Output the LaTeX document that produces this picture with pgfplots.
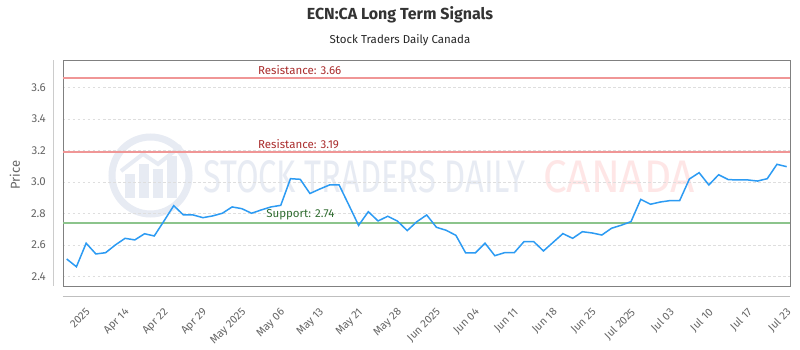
\documentclass[border=0pt]{standalone}
\usepackage{pgfplots}
\pgfplotsset{compat=1.18}
\usepackage{graphicx}
\usepackage{fontspec}
\setmainfont{Fira Sans}
\definecolor{serie}{RGB}{44,155,243}
\definecolor{resline}{RGB}{240,150,150}
\definecolor{restext}{RGB}{170,45,45}
\definecolor{supline}{RGB}{140,196,140}
\definecolor{suptext}{RGB}{50,110,50}
\definecolor{tick}{RGB}{102,102,102}
\definecolor{wmblue}{RGB}{231,235,243}
\definecolor{wmpink}{RGB}{254,230,230}
\begin{document}
\begin{tikzpicture}[x=1pt,y=1pt]
\path[use as bounding box, fill=white] (-63,-64) rectangle (737,286);
% watermark
\draw[wmblue, line width=7pt] (87.5,110.5) circle (38.5);
\fill[wmblue] (62,88) rectangle (72,112);
\fill[wmblue] (76,88) rectangle (86,122);
\fill[wmblue] (90,88) rectangle (100,117);
\fill[wmblue] (104,88) rectangle (114,130);
\draw[wmblue, line width=4pt] (58,115) -- (80,132) -- (95,122) -- (118,140);
\node[anchor=west, inner sep=0pt] at (140,109.3) {\resizebox{322pt}{32pt}{\fontsize{40}{40}\selectfont\color{wmblue}STOCK TRADERS DAILY}};
\node[anchor=west, inner sep=0pt] at (480,109.3) {\resizebox{152pt}{32pt}{\fontsize{40}{40}\selectfont\color{wmpink}CANADA}};
% titles
\node[font=\fontsize{16}{19}\selectfont\bfseries, text=black!80] at (337,271) {ECN:CA Long Term Signals};
\node[font=\fontsize{11.5}{14}\selectfont, text=black!85] at (337,246) {Stock Traders Daily Canada};
\node[font=\fontsize{13}{15}\selectfont, text=tick, rotate=90] at (-48,111) {Price};
\begin{axis}[
  at={(0,0)}, anchor=south west,
  scale only axis, width=727pt, height=226pt,
  xmin=-0.38, xmax=74.34, ymin=2.341, ymax=3.773,
  clip=false,
  axis line style={draw=black!50, line width=0.8pt},
  xtick={2,6,10,14,18,22,26,30,34,38,42,46,50,54,58,62,66,70,74},
  xticklabels={2025,Apr 14,Apr 22,Apr 29,May 2025,May 06,May 13,May 21,May 28,Jun 2025,Jun 04,Jun 11,Jun 18,Jun 25,Jul 2025,Jul 03,Jul 10,Jul 17,Jul 23},
  ytick={2.4,2.6,2.8,3.0,3.2,3.4,3.6},
  yticklabel style={/pgf/number format/.cd, fixed, fixed zerofill, precision=1, /tikz/.cd, font=\fontsize{11.5}{13}\selectfont, text=tick, inner sep=0pt, anchor=east, xshift=-17pt},
  xticklabel style={yshift=-21pt, xshift=-1pt, rotate=45, anchor=north east, inner sep=0pt, font=\fontsize{11}{13}\selectfont, text=tick},
  /pgf/number format/assume math mode=true,
  major tick length=0pt,
  ymajorgrids,
  grid style={draw=black!13, dash pattern=on 2.5pt off 2.5pt, line width=0.6pt},
]
\addplot[resline, line width=2pt] coordinates {(-0.38,3.66) (74.34,3.66)};
\addplot[resline, line width=2pt] coordinates {(-0.38,3.19) (74.34,3.19)};
\addplot[supline, line width=2pt] coordinates {(-0.38,2.74) (74.34,2.74)};
\node[anchor=south west, inner sep=0pt, yshift=3pt, font=\fontsize{11.5}{13}\selectfont, text=restext] at (axis cs:19.66,3.66) {Resistance: 3.66};
\node[anchor=south west, inner sep=0pt, yshift=3pt, font=\fontsize{11.5}{13}\selectfont, text=restext] at (axis cs:19.66,3.19) {Resistance: 3.19};
\node[anchor=south west, inner sep=0pt, yshift=3pt, font=\fontsize{11.5}{13}\selectfont, text=suptext] at (axis cs:20.5,2.74) {Support: 2.74};
\addplot[serie, line width=1.5pt] table[x=i, y=v] {
i v
0 2.512
1 2.463
2 2.612
3 2.544
4 2.552
5 2.601
6 2.643
7 2.633
8 2.672
9 2.658
10 2.753
11 2.850
12 2.791
13 2.791
14 2.774
15 2.785
16 2.802
17 2.842
18 2.831
19 2.802
20 2.823
21 2.842
22 2.852
23 3.021
24 3.017
25 2.927
26 2.955
27 2.981
28 2.981
29 2.854
30 2.725
31 2.812
32 2.753
33 2.783
34 2.752
35 2.692
36 2.749
37 2.791
38 2.713
39 2.694
40 2.662
41 2.551
42 2.551
43 2.612
44 2.533
45 2.552
46 2.552
47 2.622
48 2.622
49 2.563
50 2.618
51 2.673
52 2.643
53 2.685
54 2.677
55 2.664
56 2.707
57 2.726
58 2.749
59 2.890
60 2.859
61 2.873
62 2.882
63 2.882
64 3.019
65 3.059
66 2.981
67 3.046
68 3.015
69 3.013
70 3.013
71 3.006
72 3.021
73 3.112
74 3.097
};
\draw[black!20, line width=0.8pt] (rel axis cs:-0.0138,0) -- (rel axis cs:-0.0138,1);
\draw[black!25, line width=0.8pt] (rel axis cs:0,-0.044) -- (rel axis cs:1,-0.044);
\end{axis}
\end{tikzpicture}
\end{document}
